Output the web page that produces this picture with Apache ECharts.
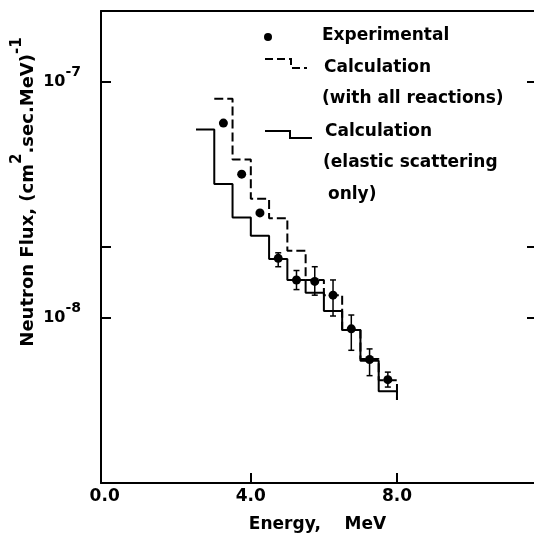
<!DOCTYPE html>
<html>
<head>
<meta charset="UTF-8">
<title>Neutron Flux</title>
<script src="https://cdn.jsdelivr.net/npm/echarts@6/dist/echarts.min.js"></script>
<style>
html, body {
	margin: 0;
	padding: 0;
	width: 100%;
	height: 100%;
	background: #fff;
	overflow: hidden;
}
#main {
	width: 534px;
	height: 540px;
}
</style>
</head>
<body>
<div id="main"></div>
<script>
// bin edges (MeV) and flux per bin
var elasticEdges = [2.5, 3.0, 3.5, 4.0, 4.5, 5.0, 5.5, 6.0, 6.5, 7.0, 7.5, 8.0];
var elasticFlux = [6.3e-8, 3.7e-8, 2.67e-8, 2.23e-8, 1.78e-8, 1.45e-8, 1.28e-8, 1.07e-8, 8.9e-9, 6.6e-9, 4.9e-9];
var allEdges = [3.0, 3.5, 4.0, 4.5, 5.0, 5.5, 6.0, 6.5, 7.0, 7.5, 8.0];
var allFlux = [8.5e-8, 4.7e-8, 3.2e-8, 2.65e-8, 1.93e-8, 1.45e-8, 1.25e-8, 8.9e-9, 6.7e-9, 5.45e-9];
var closeFlux = 4.5e-9; // both histograms close with a drop at 8 MeV

var expEnergy = [3.25, 3.75, 4.25, 4.75, 5.25, 5.75, 6.25, 6.75, 7.25, 7.75];
var expFlux = [6.7e-8, 4.07e-8, 2.79e-8, 1.79e-8, 1.45e-8, 1.43e-8, 1.25e-8, 9.0e-9, 6.67e-9, 5.48e-9];
var expLow = [null, null, null, 1.65e-8, 1.32e-8, 1.25e-8, 1.02e-8, 7.3e-9, 5.7e-9, 5.1e-9];
var expHigh = [null, null, null, 1.89e-8, 1.59e-8, 1.65e-8, 1.45e-8, 1.03e-8, 7.4e-9, 5.9e-9];

var xLabels = [0, 4, 8];
var xTickMarks = [4, 8];
var yLabelTicks = [1e-8, 1e-7];
var yTicks = [1e-8, 2e-8, 1e-7];

var FONT = 'DejaVu Sans';

function stepData(edges, flux) {
	var d = [];
	for (var i = 0; i < flux.length; i++) {
		d.push([edges[i], flux[i]]);
	}
	d.push([edges[flux.length], flux[flux.length - 1]]);
	d.push([edges[flux.length], closeFlux]);
	return d;
}

var pts = [];
var bars = [];
for (var i = 0; i < expEnergy.length; i++) {
	pts.push([expEnergy[i], expFlux[i]]);
	if (expLow[i] != null) bars.push([expEnergy[i], expLow[i], expHigh[i]]);
}

var chart = echarts.init(document.getElementById('main'));

var yLabelRich = {
	b: { fontFamily: FONT, fontWeight: 'bold', fontSize: 16, color: '#000', lineHeight: 34 },
	s: { fontFamily: FONT, fontWeight: 'bold', fontSize: 14, color: '#000', lineHeight: 14, verticalAlign: 'top' }
};

var option = {
	animation: false,
	backgroundColor: '#fff',
	grid: { left: 101, top: 11, right: -2, bottom: 57 },
	xAxis: [{
		type: 'value',
		min: -0.1,
		max: 11.75,
		name: 'Energy,    MeV',
		nameLocation: 'middle',
		nameGap: 33,
		nameTextStyle: { fontFamily: FONT, fontWeight: 'bold', fontSize: 17, color: '#000' },
		axisLine: { onZero: false, lineStyle: { color: '#000', width: 2 } },
		axisTick: { inside: true, length: 10, customValues: xTickMarks, lineStyle: { color: '#000', width: 2 } },
		axisLabel: {
			customValues: xLabels,
			margin: 5,
			fontFamily: FONT, fontWeight: 'bold', fontSize: 17, color: '#000',
			formatter: function (v) { return v.toFixed(1); }
		},
		splitLine: { show: false }
	}, {
		type: 'value',
		position: 'top',
		min: -0.1,
		max: 11.75,
		axisLine: { onZero: false, lineStyle: { color: '#000', width: 2 } },
		axisTick: { show: false },
		axisLabel: { show: false },
		splitLine: { show: false }
	}],
	yAxis: [{
		type: 'log',
		logBase: 10,
		position: 'left',
		min: 2e-9,
		max: 2e-7,
		axisLine: { show: true, onZero: false, lineStyle: { color: '#000', width: 2 } },
		axisTick: { show: true, inside: true, length: 10, customValues: yTicks, lineStyle: { color: '#000', width: 2 } },
		axisLabel: {
			customValues: yLabelTicks,
			margin: 20,
			formatter: function (v) {
				return '{b|10}{s|' + Math.round(Math.log10(v)) + '}';
			},
			rich: yLabelRich
		},
		splitLine: { show: false }
	}, {
		type: 'log',
		logBase: 10,
		position: 'right',
		min: 2e-9,
		max: 2e-7,
		axisLine: { show: true, onZero: false, lineStyle: { color: 'rgba(0,0,0,0)', width: 2 } },
		axisTick: { show: true, inside: true, length: 7, customValues: yTicks, lineStyle: { color: '#000', width: 2 } },
		axisLabel: { show: false },
		splitLine: { show: false }
	}],
	series: [{
		name: 'Calculation (elastic scattering only)',
		type: 'line',
		step: 'end',
		symbol: 'none',
		lineStyle: { color: '#000', width: 2 },
		data: stepData(elasticEdges, elasticFlux)
	}, {
		name: 'Calculation (with all reactions)',
		type: 'line',
		step: 'end',
		symbol: 'none',
		lineStyle: { color: '#000', width: 2, type: [9, 4] },
		data: stepData(allEdges, allFlux)
	}, {
		name: 'Error',
		type: 'custom',
		renderItem: function (params, api) {
			var x = api.value(0);
			var lo = api.coord([x, api.value(1)]);
			var hi = api.coord([x, api.value(2)]);
			var w = 3;
			var st = { stroke: '#000', lineWidth: 1.5 };
			return {
				type: 'group',
				children: [
					{ type: 'line', shape: { x1: lo[0], y1: lo[1], x2: hi[0], y2: hi[1] }, style: st },
					{ type: 'line', shape: { x1: lo[0] - w, y1: lo[1], x2: lo[0] + w, y2: lo[1] }, style: st },
					{ type: 'line', shape: { x1: hi[0] - w, y1: hi[1], x2: hi[0] + w, y2: hi[1] }, style: st }
				]
			};
		},
		encode: { x: 0, y: [1, 2] },
		data: bars
	}, {
		name: 'Experimental',
		type: 'scatter',
		symbol: 'circle',
		symbolSize: 9,
		itemStyle: { color: '#000', opacity: 1 },
		data: pts
	}],
	graphic: [
		// y axis title
		{
			type: 'text',
			x: 28,
			y: 192,
			rotation: Math.PI / 2,
			style: {
				text: '{b|Neutron Flux, (cm}{s|2}{b|.sec.MeV)}{s|-1}',
				align: 'center',
				verticalAlign: 'middle',
				rich: {
					b: { fontFamily: FONT, fontWeight: 'bold', fontSize: 18, fill: '#000', lineHeight: 36 },
					s: { fontFamily: FONT, fontWeight: 'bold', fontSize: 15, fill: '#000', lineHeight: 15, verticalAlign: 'top' }
				}
			}
		},
		// legend
		{ type: 'circle', shape: { cx: 268, cy: 37, r: 4 }, style: { fill: '#000' } },
		{
			type: 'polyline',
			shape: { points: [[265, 59], [291, 59], [291, 68], [307, 68]] },
			style: { stroke: '#000', lineWidth: 2, fill: null, lineDash: [8, 4] }
		},
		{
			type: 'polyline',
			shape: { points: [[265, 131], [290, 131], [290, 138], [312, 138]] },
			style: { stroke: '#000', lineWidth: 2, fill: null }
		},
		{ type: 'text', x: 322, y: 36, style: { text: 'Experimental', font: 'bold 17px "DejaVu Sans"', fill: '#000', verticalAlign: 'middle' } },
		{ type: 'text', x: 324, y: 68, style: { text: 'Calculation', font: 'bold 17px "DejaVu Sans"', fill: '#000', verticalAlign: 'middle' } },
		{ type: 'text', x: 322, y: 99, style: { text: '(with all reactions)', font: 'bold 17px "DejaVu Sans"', fill: '#000', verticalAlign: 'middle' } },
		{ type: 'text', x: 325, y: 132, style: { text: 'Calculation', font: 'bold 17px "DejaVu Sans"', fill: '#000', verticalAlign: 'middle' } },
		{ type: 'text', x: 323, y: 163, style: { text: '(elastic scattering', font: 'bold 17px "DejaVu Sans"', fill: '#000', verticalAlign: 'middle' } },
		{ type: 'text', x: 328, y: 195, style: { text: 'only)', font: 'bold 17px "DejaVu Sans"', fill: '#000', verticalAlign: 'middle' } }
	]
};

chart.setOption(option);
window.onresize = function () {
	chart.resize();
};
</script>
</body>
</html>
